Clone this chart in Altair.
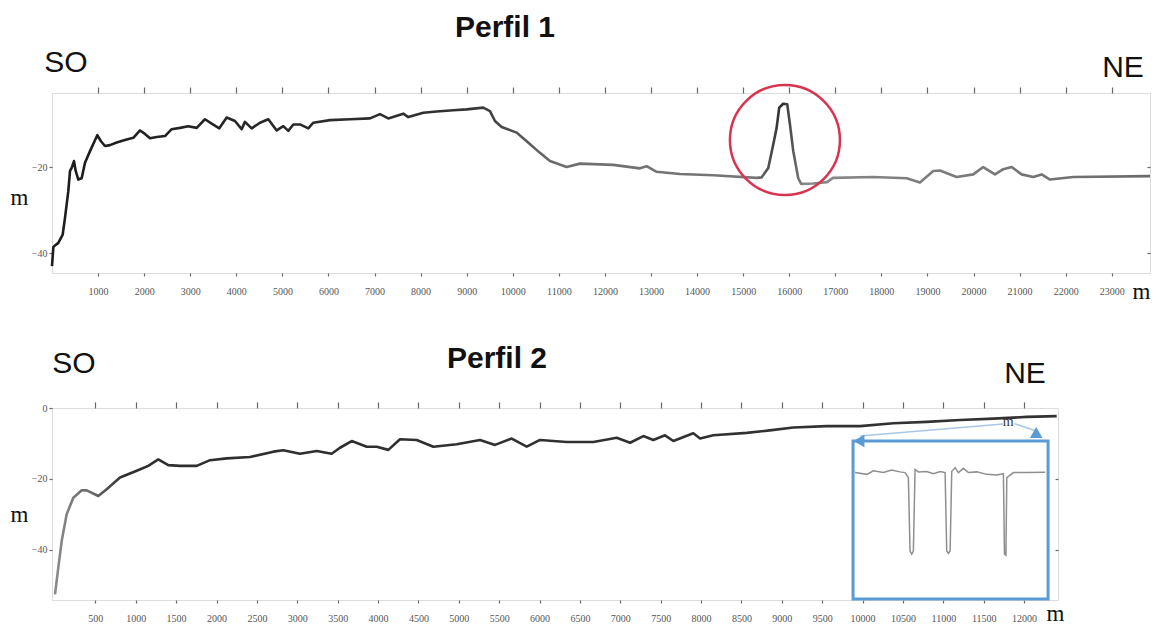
import altair as alt
import pandas as pd

# ---------------- Perfil 1 (distance m, depth m) ----------------
p1_x = [0, 29, 65, 137, 232, 282, 354, 391, 427, 477, 514, 571, 644, 716, 825, 983, 1063, 1150,
        1259, 1403, 1620, 1765, 1910, 2018, 2127, 2272, 2452, 2597, 2778, 2958, 3140, 3320, 3466,
        3631, 3791, 3971, 4116, 4188, 4333, 4514, 4695, 4876, 5020, 5128, 5237, 5382, 5563, 5671,
        6033, 6467, 6901, 7118, 7298, 7624, 7733, 8059, 8348, 8710, 8999, 9360, 9505, 9614, 9759,
        10085, 10302, 10590, 10807, 11169, 11458, 12181, 12760, 12905, 13122, 13628, 14351, 15293,
        15400, 15545, 15654, 15726, 15783, 15870, 15957, 16016, 16088, 16196, 16260, 16520, 16818,
        16950, 17824, 18548, 18837, 19126, 19271, 19633, 19994, 20211, 20465, 20645, 20827, 21044,
        21296, 21478, 21658, 22164, 23830]
p1_y = [-43.0, -38.6, -38.2, -37.6, -35.7, -31.8, -25.6, -20.9, -20.2, -18.6, -20.9, -22.9, -22.6,
        -19.0, -16.3, -12.6, -14.0, -15.1, -14.9, -14.3, -13.6, -13.2, -11.5, -12.3, -13.3, -13.0,
        -12.8, -11.2, -10.9, -10.5, -10.9, -8.9, -9.9, -11.0, -8.5, -9.3, -11.2, -9.5, -11.0, -9.7,
        -8.9, -11.5, -10.5, -11.6, -10.1, -10.1, -11.0, -9.7, -9.1, -8.9, -8.7, -7.7, -8.7, -7.6,
        -8.4, -7.4, -7.1, -6.8, -6.6, -6.2, -7.0, -9.3, -10.7, -12.0, -14.0, -16.7, -18.6, -20.0,
        -19.2, -19.5, -20.3, -19.8, -21.1, -21.6, -21.9, -22.5, -22.4, -20.2, -14.7, -10.9, -6.2,
        -5.3, -5.4, -10.1, -16.3, -22.6, -23.9, -23.8, -23.5, -22.5, -22.3, -22.6, -23.6, -20.9,
        -20.8, -22.3, -21.7, -20.0, -21.7, -20.5, -20.0, -21.7, -22.3, -21.7, -22.9, -22.3, -22.1]

# highlighted feature (red circle) in Perfil 1
circle_x = [15907]
circle_y = [-13.7]

# ---------------- Perfil 2 ----------------
p2_x = [0, 41, 83, 145, 227, 331, 393, 536, 640, 805, 1012, 1155, 1279, 1403, 1548, 1755, 1920,
        2126, 2415, 2704, 2827, 3034, 3241, 3426, 3529, 3674, 3860, 3984, 4128, 4272, 4479, 4685,
        4975, 5263, 5449, 5656, 5841, 6006, 6337, 6666, 6956, 7121, 7286, 7409, 7554, 7657, 7904,
        7988, 8152, 8566, 8850, 9143, 9556, 9969, 10382, 10794, 11207, 11620, 12033, 12404]
p2_y = [-52.5, -45.0, -37.5, -29.9, -25.3, -23.2, -23.2, -24.8, -22.9, -19.6, -17.7, -16.3, -14.5,
        -16.1, -16.3, -16.3, -14.7, -14.2, -13.8, -12.3, -11.9, -12.9, -12.1, -12.9, -11.2, -9.3,
        -10.9, -10.9, -11.8, -8.8, -9.0, -10.9, -10.2, -9.0, -10.4, -8.6, -10.9, -9.0, -9.6, -9.6,
        -8.4, -9.8, -7.9, -9.0, -7.7, -9.3, -7.1, -8.6, -7.7, -7.0, -6.3, -5.5, -5.1, -5.1, -4.3,
        -3.9, -3.4, -3.0, -2.5, -2.3]

# inset (zoomed detail) profile drawn inside the blue box
inset_x = [9907, 10052, 10134, 10257, 10361, 10464, 10526, 10567, 10588, 10609, 10629, 10650,
           10691, 10794, 10877, 10960, 11022, 11042, 11063, 11084, 11104, 11146, 11187, 11249,
           11311, 11414, 11538, 11662, 11744, 11757, 11775, 11786, 11868, 12033, 12260]
inset_y = [-18.2, -18.7, -17.7, -18.2, -17.5, -18.0, -18.2, -19.6, -40.3, -41.2, -40.3, -17.3,
           -18.0, -17.9, -18.5, -17.9, -18.2, -40.3, -41.0, -40.3, -17.9, -16.8, -18.2, -17.0,
           -18.2, -18.0, -18.7, -18.9, -18.5, -41.2, -41.5, -19.6, -18.2, -18.2, -18.1]
inset_box_x = [9882]
inset_box_x2 = [12297]
inset_box_y = [-9.3]
inset_box_y2 = [-53.8]
arrow_left_x, arrow_left_y = [9955], [-9.3]
arrow_right_x, arrow_right_y = [12150], [-6.9]
guide_x = [9969, 11880]
guide_y = [-7.9, -4.4]
guide_x2 = [11740, 12150]
guide_y2 = [-4.5, -6.5]
marker_x, marker_y = [11802], [-3.9]

ticks1 = list(range(1000, 24000, 1000))
ticks2 = list(range(500, 12500, 500))

BLUE = "#5b9bd5"
SERIF = "Liberation Serif"
SANS = "Liberation Sans"

W1, H1 = 1098, 180
W2, H2 = 1006, 192

xs1 = alt.Scale(domain=[0, 23830], nice=False, zero=False)
ys1 = alt.Scale(domain=[-44.6, -2.8], nice=False, zero=False)
xs2 = alt.Scale(domain=[-37, 12420], nice=False, zero=False)
ys2 = alt.Scale(domain=[-54.1, 0], nice=False, zero=False)

df1 = pd.DataFrame({"x": p1_x, "y": p1_y})
df2 = pd.DataFrame({"x": p2_x, "y": p2_y})

LBL = dict(labelFont=SERIF, labelFontSize=10, labelColor="#555", grid=False, domain=False,
           tickColor="#666", tickWidth=1.2)


def axes_layers(df, xs, ys, xticks, yticks, xtitle_x, xtitle_y, ytitle_y, grad):
    main = alt.Chart(df).mark_line(strokeWidth=2.6, color=grad, strokeJoin="round").encode(
        x=alt.X("x:Q", scale=xs, axis=alt.Axis(orient="bottom", values=xticks, format="d",
                                                 title="m", titleAngle=0, titleFont=SERIF,
                                                 titleFontSize=23, titleFontWeight="normal",
                                                 titleColor="#111", titleX=xtitle_x, titleY=xtitle_y,
                                                 titleAlign="center", titleBaseline="middle",
                                                 tickSize=3, labelPadding=10, **LBL)),
        y=alt.Y("y:Q", scale=ys, axis=alt.Axis(orient="left", values=yticks, format="d",
                                                 title="m", titleAngle=0, titleFont=SERIF,
                                                 titleFontSize=23, titleFontWeight="normal",
                                                 titleColor="#111", titleX=-33, titleY=ytitle_y,
                                                 titleAlign="center", titleBaseline="middle",
                                                 tickSize=3, labelPadding=2, **LBL)),
    )
    hidden = alt.Chart(df).mark_line(strokeOpacity=0).encode(
        x=alt.X("x:Q", scale=xs, axis=alt.Axis(orient="top", values=xticks, labels=False,
                                                 title=None, tickSize=6, **LBL)),
        y=alt.Y("y:Q", scale=ys, axis=alt.Axis(orient="right", values=[v for v in yticks if v != 0],
                                                 labels=False, title=None, tickSize=3, offset=-3,
                                                 **LBL)),
    )
    return main, hidden


def label_layer(text, px, py, size, weight="normal"):
    return alt.Chart(pd.DataFrame({"t": [text]})).mark_text(
        font=SANS, fontSize=size, fontWeight=weight, color="#111", align="center", baseline="middle"
    ).encode(x=alt.value(px), y=alt.value(py), text="t:N")


grad1 = alt.Gradient(gradient="linear", x1=0, x2=1, y1=0, y2=0, stops=[
    alt.GradientStop(color="#1c1c1c", offset=0.0),
    alt.GradientStop(color="#333333", offset=0.38),
    alt.GradientStop(color="#6e6e6e", offset=0.46),
    alt.GradientStop(color="#777777", offset=0.64),
    alt.GradientStop(color="#2a2a2a", offset=0.665),
    alt.GradientStop(color="#888888", offset=0.685),
    alt.GradientStop(color="#6a6a6a", offset=1.0),
])
grad2 = alt.Gradient(gradient="linear", x1=0, x2=1, y1=0, y2=0, stops=[
    alt.GradientStop(color="#8a8a8a", offset=0.0),
    alt.GradientStop(color="#666666", offset=0.04),
    alt.GradientStop(color="#2e2e2e", offset=0.07),
    alt.GradientStop(color="#333333", offset=1.0),
])

m1, h1 = axes_layers(df1, xs1, ys1, ticks1, [-20, -40], 1089, 18, 104, grad1)
circle = alt.Chart(pd.DataFrame({"x": circle_x, "y": circle_y})).mark_point(
    shape="circle", size=12100, filled=False, stroke="#d8344f", strokeWidth=2.5, opacity=1
).encode(x=alt.X("x:Q", scale=xs1, axis=None), y=alt.Y("y:Q", scale=ys1, axis=None))

top = alt.layer(
    m1, h1, circle,
    label_layer("Perfil 1", 453, -65, 30, "bold"),
    label_layer("SO", 14, -30, 30),
    label_layer("NE", 1071, -25, 30),
).properties(width=W1, height=H1)

m2, h2 = axes_layers(df2, xs2, ys2, ticks2, [0, -20, -40], 1003, 13, 106, grad2)
box = alt.Chart(pd.DataFrame({"x": inset_box_x, "x2": inset_box_x2, "y": inset_box_y,
                              "y2": inset_box_y2})).mark_rect(
    fillOpacity=0, stroke=BLUE, strokeWidth=3
).encode(x=alt.X("x:Q", scale=xs2, axis=None), x2="x2:Q",
         y=alt.Y("y:Q", scale=ys2, axis=None), y2="y2:Q")
guides = alt.Chart(pd.DataFrame({"x": guide_x, "y": guide_y, "x2": guide_x2, "y2": guide_y2})).mark_rule(
    color="#a9c6e6", strokeWidth=1.5
).encode(x=alt.X("x:Q", scale=xs2, axis=None), x2="x2:Q",
         y=alt.Y("y:Q", scale=ys2, axis=None), y2="y2:Q")
arr_l = alt.Chart(pd.DataFrame({"x": arrow_left_x, "y": arrow_left_y})).mark_point(
    shape="triangle-left", filled=True, color=BLUE, size=160, opacity=1
).encode(x=alt.X("x:Q", scale=xs2, axis=None), y=alt.Y("y:Q", scale=ys2, axis=None))
arr_r = alt.Chart(pd.DataFrame({"x": arrow_right_x, "y": arrow_right_y})).mark_point(
    shape="triangle-up", filled=True, color=BLUE, size=160, opacity=1
).encode(x=alt.X("x:Q", scale=xs2, axis=None), y=alt.Y("y:Q", scale=ys2, axis=None))
inset = alt.Chart(pd.DataFrame({"x": inset_x, "y": inset_y})).mark_line(
    color="#8f8f8f", strokeWidth=1.5
).encode(x=alt.X("x:Q", scale=xs2, axis=None), y=alt.Y("y:Q", scale=ys2, axis=None))
marker = alt.Chart(pd.DataFrame({"x": marker_x, "y": marker_y, "t": ["m"]})).mark_text(
    font=SERIF, fontSize=14, color="#333", align="center", baseline="middle"
).encode(x=alt.X("x:Q", scale=xs2, axis=None), y=alt.Y("y:Q", scale=ys2, axis=None), text="t:N")

bottom = alt.layer(
    m2, h2, guides, box, inset, arr_l, arr_r, marker,
    label_layer("Perfil 2", 445, -49, 30, "bold"),
    label_layer("SO", 22, -44, 30),
    label_layer("NE", 973, -34, 30),
).properties(width=W2, height=H2)

chart = alt.vconcat(top, bottom, spacing=39).configure_view(
    stroke="#8c8c8c", strokeWidth=2
).configure_axis(
    grid=False, domain=False, labelFont=SERIF, labelFontSize=10, labelColor="#555",
    tickColor="#666", tickWidth=1.2
).configure(padding={"left": 1, "top": 4, "right": 0, "bottom": 0}, background="white")

chart.save("out.html", embed_options={"renderer": "svg", "actions": False})
